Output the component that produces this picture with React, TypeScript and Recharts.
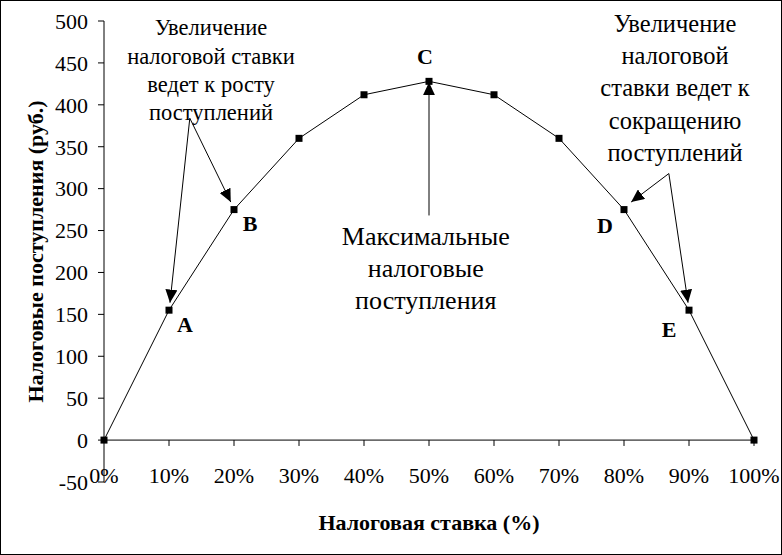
import { LabelList, Line, LineChart, ReferenceDot, ReferenceLine, XAxis, YAxis } from 'recharts';

document.body.style.margin = '0';

const rates = [0, 10, 20, 30, 40, 50, 60, 70, 80, 90, 100];
const revenue = [0, 155, 275, 360, 412, 428, 412, 360, 275, 155, 0];
const pointLetters = ['', 'A', 'B', '', '', 'C', '', '', 'D', 'E', ''];
const xTicks = [0, 10, 20, 30, 40, 50, 60, 70, 80, 90, 100];
const yTicks = [-50, 0, 50, 100, 150, 200, 250, 300, 350, 400, 450, 500];
const axisTickMarks = [10, 20, 30, 40, 50, 60, 70, 80, 90, 100];

const leftNote = ['Увеличение', 'налоговой ставки', 'ведет к росту', 'поступлений'];
const middleNote = ['Максимальные', 'налоговые', 'поступления'];
const rightNote = ['Увеличение', 'налоговой', 'ставки ведет к', 'сокращению', 'поступлений'];

// arrow segments in data units: [from, to]
const arrowSegments = [
  [{ x: 13.2, y: 384 }, { x: 10.15, y: 164 }],
  [{ x: 13.2, y: 384 }, { x: 19.5, y: 284 }],
  [{ x: 50, y: 268 }, { x: 50, y: 427 }],
  [{ x: 86.9, y: 318 }, { x: 81.1, y: 284 }],
  [{ x: 86.9, y: 318 }, { x: 89.85, y: 164 }],
];

const data = rates.map((rate, i) => ({ rate, revenue: revenue[i], letter: pointLetters[i] }));

const FONT = '"Liberation Serif", "Times New Roman", serif';

// pixel nudges for the point letters
const letterOffset: Record<string, [number, number]> = {
  A: [16, 22],
  B: [16, 21],
  C: [-4, -17],
  D: [-19, 23],
  E: [-20, 27],
};

function SquareDot(props: any) {
  const { cx, cy, index } = props;
  if (cx == null || cy == null) return null;
  return <rect key={`d${index}`} x={cx - 3.5} y={cy - 3.5} width={7} height={7} fill="#000" />;
}

function LetterLabel(props: any) {
  const { x, y, value } = props;
  if (!value) return null;
  const [dx, dy] = letterOffset[value] || [0, 0];
  return (
    <text x={x + dx} y={y + dy} textAnchor="middle" fontFamily={FONT} fontSize={22} fontWeight="bold" fill="#000">
      {value}
    </text>
  );
}

function noteLabel(lines: string[], lineHeight: number, fontSize: number) {
  return (props: any) => {
    const { x, y } = props.viewBox;
    return (
      <text x={x} y={y} textAnchor="middle" fontFamily={FONT} fontSize={fontSize} fill="#000">
        {lines.map((l, i) => (
          <tspan key={i} x={x} y={y + i * lineHeight}>
            {l}
          </tspan>
        ))}
      </text>
    );
  };
}

function XTick(props: any) {
  const { x, y, payload } = props;
  return (
    <text x={x} y={y + 1} textAnchor="middle" fontFamily={FONT} fontSize={22} fill="#000">
      {`${payload.value}%`}
    </text>
  );
}

function ArrowShape(props: any) {
  const { x1, y1, x2, y2 } = props;
  return <line x1={x1} y1={y1} x2={x2} y2={y2} stroke="#000" strokeWidth={1} markerEnd="url(#arrowHead)" />;
}

export default function App() {
  return (
    <div style={{ width: 782, height: 555, border: '1px solid #000', boxSizing: 'border-box', background: '#fff' }}>
      <LineChart width={780} height={553} data={data} margin={{ top: 20, right: 27, bottom: 42, left: 43 }}>
        <defs>
          <marker id="arrowHead" markerUnits="userSpaceOnUse" markerWidth={14} markerHeight={12} refX={13} refY={6} orient="auto">
            <path d="M0,0 L13,6 L0,12 z" fill="#000" />
          </marker>
        </defs>
        <XAxis
          dataKey="rate"
          type="number"
          domain={[0, 100]}
          ticks={xTicks}
          interval={0}
          axisLine={false}
          tickLine={false}
          tickSize={0}
          tickMargin={0}
          height={30}
          tick={<XTick />}
          label={{
            content: (p: any) => (
              <text
                x={p.viewBox.x + p.viewBox.width / 2}
                y={p.viewBox.y + 48}
                textAnchor="middle"
                fontFamily={FONT}
                fontSize={22}
                fontWeight="bold"
                fill="#000"
              >
                Налоговая ставка (%)
              </text>
            ),
          }}
        />
        <YAxis
          type="number"
          domain={[-50, 500]}
          ticks={yTicks}
          interval={0}
          width={60}
          axisLine={{ stroke: '#000' }}
          tickLine={{ stroke: '#000' }}
          tickMargin={10}
          tick={{ fill: '#000', fontSize: 22, fontFamily: FONT }}
          label={{
            content: (p: any) => {
              const cx = p.viewBox.x - 9;
              const cy = p.viewBox.y + p.viewBox.height / 2;
              return (
                <text
                  x={cx}
                  y={cy}
                  transform={`rotate(-90 ${cx} ${cy})`}
                  textAnchor="middle"
                  dominantBaseline="central"
                  fontFamily={FONT}
                  fontSize={22}
                  fontWeight="bold"
                  fill="#000"
                >
                  Налоговые поступления (руб.)
                </text>
              );
            },
          }}
        />
        <ReferenceLine y={0} stroke="#000" />
        {axisTickMarks.map((t) => (
          <ReferenceLine key={`t${t}`} segment={[{ x: t, y: 0 }, { x: t, y: -7 }]} stroke="#000" />
        ))}
        {arrowSegments.map((s, i) => (
          <ReferenceLine key={`a${i}`} segment={s} shape={ArrowShape} />
        ))}
        <ReferenceDot x={16.46} y={483} r={0} fill="none" stroke="none" label={{ content: noteLabel(leftNote, 28.4, 22.5) }} />
        <ReferenceDot x={49.5} y={233} r={0} fill="none" stroke="none" label={{ content: noteLabel(middleNote, 32, 26) }} />
        <ReferenceDot x={87.85} y={487} r={0} fill="none" stroke="none" label={{ content: noteLabel(rightNote, 32.3, 24.5) }} />
        <Line
          type="linear"
          dataKey="revenue"
          stroke="#000"
          strokeWidth={1}
          dot={SquareDot}
          activeDot={false}
          isAnimationActive={false}
        >
          <LabelList dataKey="letter" content={LetterLabel} />
        </Line>
      </LineChart>
    </div>
  );
}
